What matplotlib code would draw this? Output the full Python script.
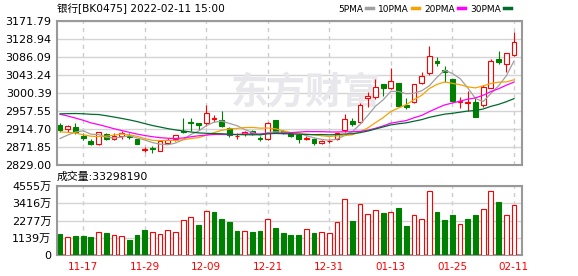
import matplotlib
matplotlib.use('Agg')
import matplotlib.pyplot as plt
from matplotlib.lines import Line2D
import numpy as np
import pandas as pd

plt.rcParams['font.family'] = ['DejaVu Sans', 'Noto Sans CJK SC']

# closes before the first day shown (only used to start the moving averages)
hist_close = [2905, 2898, 2910, 2915, 2925, 2975, 2990, 3005, 2998, 3000,
              3010, 3005, 2995, 3002, 2990, 2985, 2998, 2992, 2980, 2962,
              2935, 2925, 2930, 2915, 2915, 2880, 2872, 2878, 2918]

# daily K-line, 2021-11-12 .. 2022-02-11
open_ = [2924, 2915, 2919, 2898, 2886, 2878, 2902, 2892, 2898, 2898,
         2890, 2865, 2869, 2863, 2882, 2892, 2911, 2931, 2928, 2929,
         2939, 2935, 2916, 2897, 2902, 2910, 2894, 2890, 2936, 2910,
         2904, 2900, 2890, 2891, 2882, 2886, 2890, 2912, 2934, 2931,
         2988, 2992, 3022, 3012, 3024, 2971, 2978, 3024, 3047, 3077,
         3056, 3034, 2980, 2977, 2978, 2972, 3013, 3081, 3069, 3091]
high = [2930, 2925, 2928, 2904, 2891, 2908, 2904, 2904, 2910, 2904,
        2891, 2872, 2874, 2886, 2894, 2900, 2940, 2940, 2930, 2971,
        2949, 2957, 2920, 2904, 2909, 2912, 2898, 2931, 2937, 2912,
        2906, 2904, 2898, 2894, 2889, 2891, 2906, 2950, 2941, 2976,
        3003, 3034, 3022, 3059, 3024, 2988, 3023, 3050, 3112, 3085,
        3065, 3034, 2992, 3005, 2989, 3020, 3081, 3100, 3095, 3146]
low = [2907, 2908, 2902, 2888, 2877, 2876, 2888, 2888, 2890, 2890,
       2878, 2861, 2858, 2862, 2878, 2885, 2905, 2909, 2912, 2923,
       2931, 2920, 2895, 2891, 2898, 2900, 2887, 2888, 2904, 2902,
       2896, 2882, 2888, 2877, 2879, 2882, 2888, 2908, 2921, 2928,
       2968, 2987, 2993, 3009, 2968, 2962, 2976, 3021, 3043, 3065,
       3027, 2980, 2965, 2958, 2944, 2968, 3012, 3069, 3051, 3089]
close = [2912, 2922, 2907, 2893, 2878, 2907, 2890, 2898, 2904, 2895,
         2880, 2866, 2867, 2885, 2888, 2900, 2907, 2928, 2925, 2953,
         2940, 2922, 2900, 2898, 2908, 2904, 2890, 2930, 2908, 2904,
         2898, 2890, 2894, 2882, 2886, 2887, 2904, 2938, 2927, 2972,
         2993, 3015, 3013, 3029, 2970, 2966, 3021, 3042, 3089, 3071,
         3051, 2981, 2982, 2978, 2944, 3015, 3077, 3074, 3095, 3121]
# volume in 万
volume = [1386, 1166, 1254, 1254, 1188, 1496, 1452, 1298, 1232, 990,
          1320, 1650, 1496, 1364, 1628, 1496, 2288, 2487, 1980, 2883,
          2839, 2376, 2178, 1584, 1562, 1518, 1584, 2354, 1782, 1452,
          1320, 1320, 1694, 1452, 1496, 1430, 2156, 3675, 2244, 3345,
          2684, 2949, 2772, 2817, 3103, 1914, 2619, 2354, 4203, 2839,
          2310, 2640, 2024, 2376, 2640, 3015, 4203, 3499, 2619, 3330]
last_volume = 33298190

tick_labels = ['11-17', '11-29', '12-09', '12-21', '12-31', '01-13', '01-25', '02-11']
holidays = ['2022-01-03', '2022-01-31', '2022-02-01', '2022-02-02',
            '2022-02-03', '2022-02-04']
ma_periods = [5, 10, 20, 30]
ma_colors = ['#a0a0a0', '#f5a300', '#ff00ff', '#006b2d']

price_min, price_max = 2829.00, 3171.79
vol_top = 4554.9

RED = '#ff0000'
GREEN = '#008000'
GRID = '#d4d4d4'
FRAME = '#999999'

# trading days
days = pd.bdate_range('2021-11-12', '2022-02-11')
days = days[~days.isin(pd.to_datetime(holidays))]
day_labels = list(days.strftime('%m-%d'))
tick_pos = [day_labels.index(t) for t in tick_labels]

o = np.array(open_, float)
c = np.array(close, float)
x = np.arange(len(c))
up = c >= o
prev = np.array([hist_close[-1]] + close[:-1], float)
vol_up = c >= prev

all_close = pd.Series(hist_close + close, dtype=float)
ma = {n: all_close.rolling(n).mean().to_numpy()[len(hist_close):] for n in ma_periods}

fig = plt.figure(figsize=(5.78, 2.76), dpi=100)
ax = fig.add_axes([57 / 578, 1 - 165 / 276, 465 / 578, 144 / 276])
axv = fig.add_axes([57 / 578, 1 - 255 / 276, 465 / 578, 69 / 276])


def style_axes(a):
    for s in a.spines.values():
        s.set_color(FRAME)
        s.set_linewidth(1.5)
    a.set_xticks(tick_pos)
    a.set_xlim(-0.4, len(c) + 0.05)
    a.grid(axis='y', color=GRID, lw=1, zorder=0)
    a.grid(axis='x', color='#cccccc', lw=1, ls=(0, (3, 3)), zorder=0)
    a.tick_params(length=0, labelsize=8, pad=4)
    a.set_axisbelow(True)


# candles
col = np.where(up, RED, GREEN)
face = np.where(up, 'white', GREEN)
ax.vlines(x, low, high, colors=col, lw=0.8, zorder=2)
body = np.maximum(np.abs(c - o), 0.5)
ax.bar(x, body, bottom=np.minimum(o, c), width=0.62, color=face,
       edgecolor=col, lw=0.8, zorder=3)
for n, mc in zip(ma_periods, ma_colors):
    ax.plot(x, ma[n], color=mc, lw=0.9, zorder=4)

style_axes(ax)
ax.set_ylim(price_min, price_max)
yt = np.linspace(price_min, price_max, 9)
ax.set_yticks(yt)
ax.set_yticklabels([f'{v:.2f}' for v in yt])
ax.set_xticklabels([])
ax.text(0.535, 0.5, '东方财富', transform=ax.transAxes, fontsize=27,
        fontweight='bold', color='#e8e8ec', ha='center', va='center',
        family=['Noto Sans CJK SC'], zorder=1)

# volume
vcol = np.where(vol_up, RED, GREEN)
vface = np.where(vol_up, 'white', GREEN)
axv.bar(x, volume, width=0.62, color=vface, edgecolor=vcol, lw=0.8, zorder=3)
style_axes(axv)
axv.set_ylim(0, vol_top)
vt = np.linspace(0, vol_top, 5)
axv.set_yticks(vt)
axv.set_yticklabels(['0'] + [f'{round(v)}万' for v in vt[1:]])
axv.set_xticklabels(tick_labels, color=RED, fontsize=7.5)
axv.tick_params(axis='x', pad=5)

# texts
fig.text(57 / 578, 1 - 9 / 276, '银行[BK0475] 2022-02-11 15:00',
         fontsize=7.6, va='center', ha='left')
fig.text(57 / 578, 1 - 177 / 276, f'成交量:{last_volume}',
         fontsize=7.8, va='center', ha='left')

handles = [Line2D([], [], color=mc, lw=2.5) for mc in ma_colors]
fig.legend(handles, [f'{n}PMA' for n in ma_periods], ncol=4, markerfirst=False,
           frameon=False, loc='center right', bbox_to_anchor=(511 / 578, 1 - 9 / 276),
           fontsize=6.5, handlelength=0.8, handletextpad=0.3, columnspacing=0.6,
           borderpad=0, borderaxespad=0)

fig.savefig('out.png', dpi=100)
